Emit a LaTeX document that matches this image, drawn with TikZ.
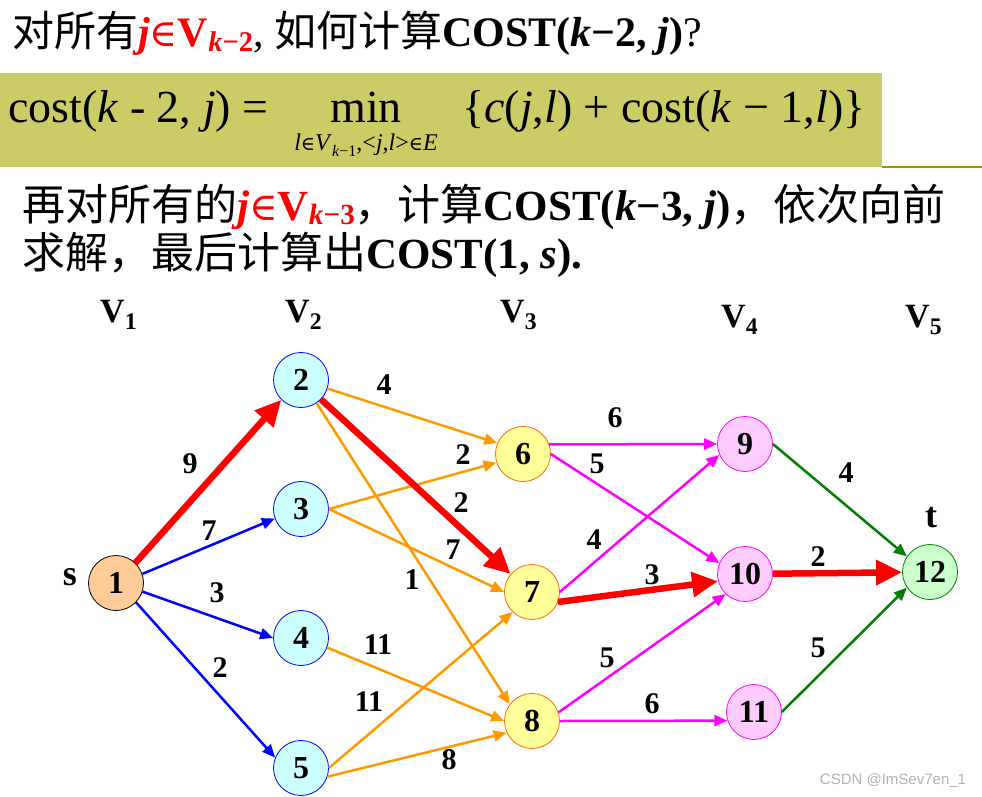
\documentclass[tikz,border=0pt]{standalone}
\usepackage{fontspec}
\setmainfont{Liberation Serif}
\newfontfamily\cjk{Noto Sans CJK SC}
\newfontfamily\wmfont{Liberation Sans}
\newfontfamily\symf{DejaVu Serif}
\usepackage{tikz}
\usetikzlibrary{arrows.meta}
\definecolor{boxolive}{HTML}{CCCC66}
\definecolor{lineolive}{HTML}{999900}
\definecolor{peach}{HTML}{FFCC99}
\definecolor{lightcyan}{HTML}{CCFFFF}
\definecolor{lightyellow}{HTML}{FFFF99}
\definecolor{lightpink}{HTML}{FFCCFF}
\definecolor{lightgreen}{HTML}{CCFFCC}
\definecolor{orangeline}{HTML}{FF9900}
\definecolor{orangeborder}{HTML}{FF6600}
\definecolor{pinkline}{HTML}{FF00FF}
\definecolor{darkgreen}{HTML}{008000}
\newcommand{\elem}[1][0.8em]{{\symf\fontsize{#1}{1em}\selectfont ∈}}
\newcommand{\jinV}[1]{{\color{red}\textbf{\textit{j}}\elem[0.9em]\textbf{V}\raisebox{-0.1em}{\fontsize{0.68em}{0.7em}\selectfont\textbf{\textit{k}−#1}}}}

\begin{document}
\begin{tikzpicture}[x=1pt,y=-1pt,
    vtx/.style={circle,minimum size=55pt,inner sep=0pt,line width=0.8pt,
      font=\fontsize{32}{32}\selectfont\bfseries},
    wlabel/.style={inner sep=0pt,font=\fontsize{30}{30}\selectfont\bfseries},
    layerlabel/.style={anchor=base west,inner sep=0pt,font=\fontsize{34}{34}\selectfont\bfseries},
    thinedge/.style={line width=2.5pt,-{Triangle[length=13pt,width=11pt]}},
    pathedge/.style={red,line width=6.5pt,-{Triangle[length=26pt,width=24pt]}}]
      \useasboundingbox (0,0) rectangle (982,797);
      % text on top
      \node[anchor=base west,inner sep=0pt,font=\fontsize{42}{42}\selectfont] (ask) at (12,47)
        {{\cjk 对所有}\jinV{2}, {\cjk 如何计算}\textbf{COST(\textit{k}−2, \textit{j})}?};
      \fill[boxolive] (0,73) rectangle (882,167);
      \draw[lineolive,line width=2pt] (882,167) -- (982,167);
      \node[anchor=base west,inner sep=0pt,font=\fontsize{46}{46}\selectfont] (lhs) at (8,123)
        {cost(\textit{k} - 2, \textit{j}) =};
      \node[anchor=base,inner sep=0pt,font=\fontsize{46}{46}\selectfont] (minop) at (366,123) {min};
      \node[anchor=base,inner sep=0pt,font=\fontsize{24}{24}\selectfont] (minsub) at (366,150)
        {\textit{l}\elem\textit{V}\raisebox{-0.25em}{\fontsize{16}{16}\selectfont\textit{k}−1},<\textit{j},\textit{l}>\elem\textit{E}};
      \node[anchor=base west,inner sep=0pt,font=\fontsize{46}{46}\selectfont] (rhs) at (462,123)
        {\{\textit{c}(\textit{j},\textit{l}) + cost(\textit{k} − 1,\textit{l})\}};
      \node[anchor=base west,inner sep=0pt,font=\fontsize{43}{43}\selectfont] (next) at (22,220)
        {{\cjk 再对所有的}\jinV{3}{\cjk ，计算}\textbf{COST(\textit{k}−3, \textit{j})}{\cjk ，依次向前}};
      \node[anchor=base west,inner sep=0pt,text height=30pt,font=\fontsize{43}{43}\selectfont] (last) at (22,268)
        {{\cjk 求解，最后计算出}\textbf{COST(1, \textit{s}).}};
      % layers
      \node[layerlabel] (V1) at (100,322) {V\textsubscript{1}};
      \node[layerlabel] (V2) at (285,322) {V\textsubscript{2}};
      \node[layerlabel] (V3) at (500,322) {V\textsubscript{3}};
      \node[layerlabel] (V4) at (721,327) {V\textsubscript{4}};
      \node[layerlabel] (V5) at (905,327) {V\textsubscript{5}};
      % vertices
      \node[vtx,draw=black,fill=peach] (n1) at (116,583) {1};
      \node[vtx,draw=blue,fill=lightcyan] (n2) at (301,380) {2};
      \node[vtx,draw=blue,fill=lightcyan] (n3) at (301,509) {3};
      \node[vtx,draw=blue,fill=lightcyan] (n4) at (301,638) {4};
      \node[vtx,draw=blue,fill=lightcyan] (n5) at (301,768) {5};
      \node[vtx,draw=orangeborder,fill=lightyellow] (n6) at (523,454) {6};
      \node[vtx,draw=orangeborder,fill=lightyellow] (n7) at (532,592) {7};
      \node[vtx,draw=orangeborder,fill=lightyellow] (n8) at (532,721) {8};
      \node[vtx,draw=pinkline,fill=lightpink] (n9) at (745,444) {9};
      \node[vtx,draw=pinkline,fill=lightpink] (n10) at (745,574) {10};
      \node[vtx,draw=pinkline,fill=lightpink] (n11) at (754,712) {11};
      \node[vtx,draw=darkgreen,fill=lightgreen] (n12) at (930,572) {12};
      \node[inner sep=0pt,font=\fontsize{36}{36}\selectfont\bfseries] (s) at (70,577) {s};
      \node[inner sep=0pt,font=\fontsize{36}{36}\selectfont\bfseries] (t) at (931,518) {t};
      % edges
      \draw[thinedge,blue] (n1.19) -- (n3.200);
      \draw[thinedge,blue] (n1.-18) -- (n4.west);
      \draw[thinedge,blue] (n1.-44) -- (n5.158);
      \draw[thinedge,orangeline] (n2.-18) -- (n6.157);
      \draw[thinedge,orangeline] (n2.-56) -- (n8.143);
      \draw[thinedge,orangeline] (n3.east) -- (n6.198);
      \draw[thinedge,orangeline] (n3.east) -- (n7.west);
      \draw[thinedge,orangeline] (n4.-20) -- (n8.west);
      \draw[thinedge,orangeline] (n5.east) -- (n7.226);
      \draw[thinedge,orangeline] (n5.-18) -- (n8.205);
      \draw[thinedge,pinkline] (n6.20) -- (n9.west);
      \draw[thinedge,pinkline] (n6.east) -- (n10.157);
      \draw[thinedge,pinkline] (n7.east) -- (n9.203);
      \draw[thinedge,pinkline] (n8.18) -- (n10.226);
      \draw[thinedge,pinkline] (n8.east) -- (n11.198);
      \draw[thinedge,darkgreen] (n9.east) -- (n12.146);
      \draw[thinedge,darkgreen] (n11.east) -- (n12.214);
      \draw[pathedge] (n1.46) -- (n2.225);
      \draw[pathedge] (n2.-44) -- (n7.140);
      \draw[pathedge] (n7.-21) -- (n10.195);
      \draw[pathedge] (n10) -- (n12);
      % weights
      \node[wlabel] (w12) at (190,464) {9};
      \node[wlabel] (w13) at (209,531) {7};
      \node[wlabel] (w14) at (217,593) {3};
      \node[wlabel] (w15) at (220,668) {2};
      \node[wlabel] (w26) at (384,385) {4};
      \node[wlabel] (w36) at (463,455) {2};
      \node[wlabel] (w27) at (461,503) {2};
      \node[wlabel] (w37) at (453,550) {7};
      \node[wlabel] (w28) at (412,580) {1};
      \node[wlabel] (w48) at (378,645) {11};
      \node[wlabel] (w57) at (369,702) {11};
      \node[wlabel] (w58) at (449,760) {8};
      \node[wlabel] (w69) at (615,418) {6};
      \node[wlabel] (w610) at (597,464) {5};
      \node[wlabel] (w79) at (594,540) {4};
      \node[wlabel] (w710) at (652,575) {3};
      \node[wlabel] (w810) at (607,658) {5};
      \node[wlabel] (w811) at (652,704) {6};
      \node[wlabel] (w912) at (846,473) {4};
      \node[wlabel] (w1012) at (818,557) {2};
      \node[wlabel] (w1112) at (818,648) {5};
      \node[inner sep=0pt,text=black!30,font=\wmfont\fontsize{15}{15}\selectfont] (mark) at (893,781) {CSDN @ImSev7en\_1};
\end{tikzpicture}
\end{document}
